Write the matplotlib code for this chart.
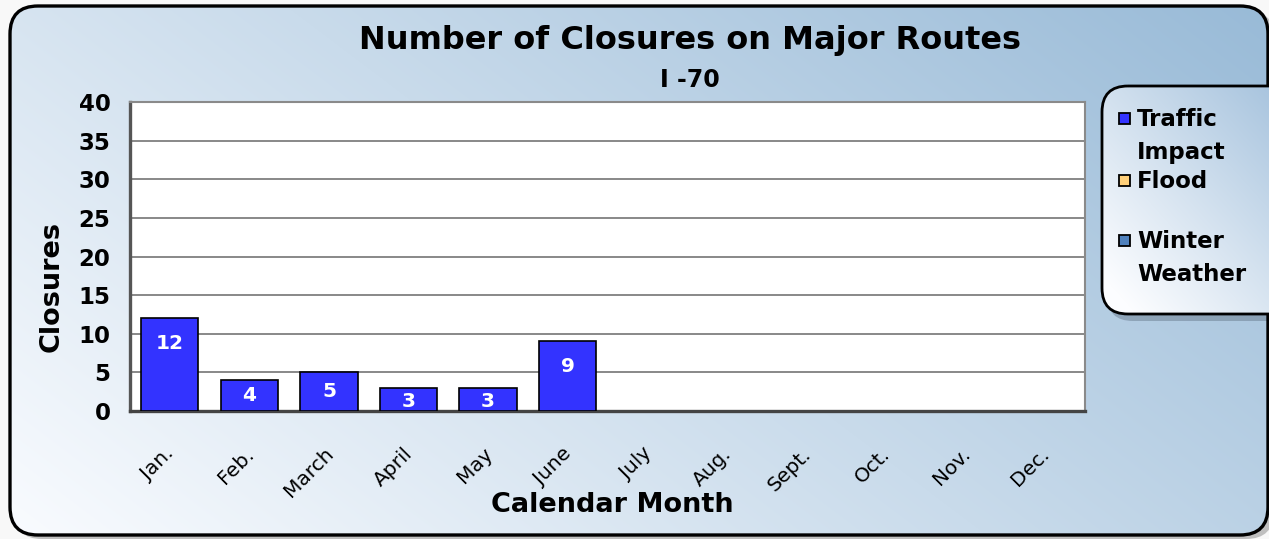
import numpy as np
import matplotlib
matplotlib.use("Agg")
import matplotlib.pyplot as plt
from matplotlib.patches import FancyBboxPatch, Rectangle
from matplotlib.transforms import ScaledTranslation

plt.rcParams['font.family'] = ['DejaVu Sans']

months = ["Jan.", "Feb.", "March", "April", "May", "June", "July",
          "Aug.", "Sept.", "Oct.", "Nov.", "Dec."]
traffic = [12, 4, 5, 3, 3, 9, None, None, None, None, None, None]
flood = [None] * 12
winter = [None] * 12
series_names = ["Traffic\nImpact", "Flood\n", "Winter\nWeather"]
series_colors = ["#3333FF", "#FFD07A", "#4F81BD"]
yticks = [0, 5, 10, 15, 20, 25, 30, 35, 40]
title = "Number of Closures on Major Routes"
subtitle = "I -70"
xlabel = "Calendar Month"
ylabel = "Closures"

W, H = 1269, 539
fig = plt.figure(figsize=(W / 100, H / 100), dpi=100)
fig.patch.set_facecolor("#f8f8f8")

bg = fig.add_axes([0, 0, 1, 1], zorder=-10)
bg.set_xlim(0, W)
bg.set_ylim(H, 0)
bg.axis("off")
yy, xx = np.mgrid[0:H, 0:W]
t = (xx / W) * 0.8 + (1 - yy / H) * 0.45
t = (t - t.min()) / (t.max() - t.min())
c0 = np.array([250, 252, 255]) / 255
c1 = np.array([152, 186, 215]) / 255
img = c0[None, None, :] * (1 - t[..., None]) + c1[None, None, :] * t[..., None]

sh = FancyBboxPatch((14, 10), 1260, 529, boxstyle="round,pad=0,rounding_size=28",
                    facecolor="#a8a8a8", edgecolor="none", alpha=0.7, zorder=0)
bg.add_patch(sh)
frame = FancyBboxPatch((10, 6), 1258, 529, boxstyle="round,pad=0,rounding_size=28",
                       facecolor="none", edgecolor="black", linewidth=2.4, zorder=3)
bg.add_patch(frame)
im = bg.imshow(img, extent=(0, W, H, 0), aspect="auto", zorder=1)
im.set_clip_path(frame)

# legend box
lsh = FancyBboxPatch((1107, 93), 220, 228, boxstyle="round,pad=0,rounding_size=26",
                     facecolor="#4a5a6a", edgecolor="none", alpha=0.35, zorder=2)
bg.add_patch(lsh)
lbox = FancyBboxPatch((1102, 86), 220, 228, boxstyle="round,pad=0,rounding_size=26",
                      facecolor="none", edgecolor="black", linewidth=2, zorder=4)
bg.add_patch(lbox)
lt2 = (1 - (xx - 1102) / 170.0) * 0.5 + (yy - 86) / 228.0 * 0.6
lt2 = np.clip(lt2, 0, 1)
lc0 = np.array([168, 196, 222]) / 255
lc1 = np.array([252, 253, 255]) / 255
limg = lc0[None, None, :] * (1 - lt2[..., None]) + lc1[None, None, :] * lt2[..., None]
lim = bg.imshow(limg, extent=(0, W, H, 0), aspect="auto", zorder=3)
lim.set_clip_path(lbox)

row_y = [119, 181, 241]
for name, col, ry in zip(series_names, series_colors, row_y):
    bg.add_patch(Rectangle((1119, ry - 6), 11, 11, facecolor=col,
                           edgecolor="black", linewidth=1.3, zorder=5))
    bg.text(1137, ry - 11, name, fontsize=16.5, fontweight="bold", va="top",
            ha="left", linespacing=1.55, zorder=5)

# main plot
left, right, top, bottom = 130 / W, 1085 / W, 102 / H, 411 / H
ax = fig.add_axes([left, 1 - bottom, right - left, bottom - top])
ax.set_facecolor("white")
x = np.arange(len(months))
tv = np.array([np.nan if v is None else v for v in traffic], dtype=float)
mask = ~np.isnan(tv)
bars = ax.bar(x[mask], tv[mask], width=0.72, color=series_colors[0],
              edgecolor="black", linewidth=1.2, zorder=3)
ax.set_xlim(-0.5, len(months) - 0.5)
ax.set_ylim(0, 40)
ax.set_yticks(yticks)
ax.set_yticklabels([str(v) for v in yticks], fontsize=16.5, fontweight="bold")
ax.yaxis.grid(True, color="#7f7f7f", linewidth=1.3, zorder=0)
ax.set_axisbelow(True)
ax.tick_params(axis="y", length=0, pad=14)
ax.tick_params(axis="x", length=0, pad=24)
ax.set_xticks(x)
ax.set_xticklabels(months, rotation=45, ha="right", fontsize=14.5)
off = ScaledTranslation(8 / 100, 0, fig.dpi_scale_trans)
for lab in ax.get_xticklabels():
    lab.set_transform(lab.get_transform() + off)
for s in ["top", "right"]:
    ax.spines[s].set_color("#8a8a8a")
    ax.spines[s].set_linewidth(1.5)
ax.spines["left"].set_color("#555555")
ax.spines["left"].set_linewidth(2.4)
ax.spines["bottom"].set_color("#444444")
ax.spines["bottom"].set_linewidth(2.4)

px_per_unit = (411 - 102) / 40.0
for b, v in zip(bars, tv[mask]):
    hpx = v * px_per_unit
    o = min(25, max(hpx / 2, 14))
    ax.annotate(f"{int(v)}", (b.get_x() + b.get_width() / 2, v),
                xytext=(0, -o * 72 / 100), textcoords="offset points",
                ha="center", va="center", color="white", fontsize=14.5,
                fontweight="bold", zorder=5)

fig.text(690 / W, 1 - 40 / H, title, ha="center", va="center", fontsize=23,
         fontweight="bold")
fig.text(690 / W, 1 - 80 / H, subtitle, ha="center", va="center", fontsize=17,
         fontweight="bold")
fig.text(612 / W, 1 - 505 / H, xlabel, ha="center", va="center", fontsize=19.5,
         fontweight="bold")
fig.text(52 / W, 1 - 286 / H, ylabel, ha="center", va="center", fontsize=19.5,
         fontweight="bold", rotation=90)

fig.savefig("out.png", dpi=100)
